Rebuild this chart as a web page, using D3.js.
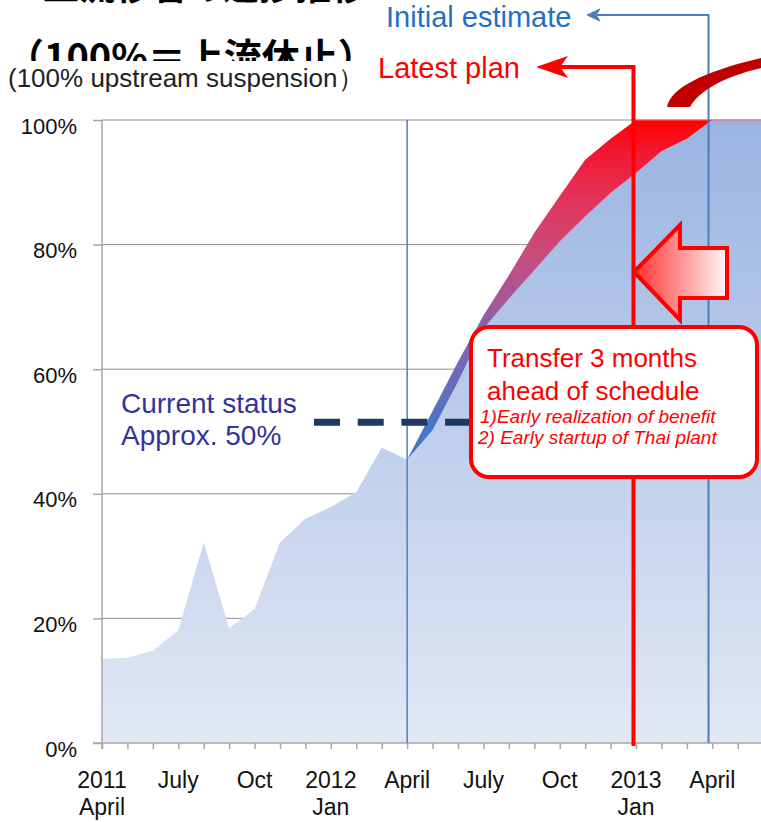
<!DOCTYPE html>
<html lang="en">
<head>
    <meta charset="UTF-8">
    <script src="https://d3js.org/d3.v7.min.js"></script>
    <style>
        body { margin: 0; background: white; }
        svg { display: block; font-family: "Liberation Sans", Arial, sans-serif; }
    </style>
</head>
<body>
    <div id="chart"></div>

    <script>
        const width = 761;
        const height = 822;

        // month index 0 = April 2011, one step per month
        const actualIndex = [0, 1, 2, 3, 4, 5, 6, 7, 8, 9, 10, 11, 12];
        const actualValues = [13.5, 13.7, 14.8, 18.1, 32.2, 18.4, 21.5, 32.2, 36, 37.9, 40.3, 47.4, 45.5];

        const planIndex = [12, 13, 14, 15, 16, 17, 18, 19, 20, 21, 22, 23, 24, 25, 26];
        const initialEstimate = [45.5, 50.2, 58, 66.5, 71.3, 75.9, 80.5, 84.5, 88.3, 91.5, 95, 97, 100, 100, 100];
        const latestPlan = [45.5, 53.3, 61.2, 68.6, 75.1, 81.9, 87.8, 93.6, 97, 100, 100, 100, 100, 100, 100];

        const yTicks = [0, 20, 40, 60, 80, 100];
        const xTickIndex = d3.range(0, 27);
        const xLabelIndex = [0, 3, 6, 9, 12, 15, 18, 21, 24];
        const xLabelTop = ["2011", "July", "Oct", "2012", "April", "July", "Oct", "2013", "April"];
        const xLabelBottom = ["April", "", "", "Jan", "", "", "", "Jan", ""];

        const currentStatus = 51.5;      // dashed marker level
        const aprilMarker = 12;          // blue line, April 2012
        const initialEnd = 23.85;        // initial estimate reaches 100%
        const latestEnd = 20.9;          // latest plan reaches 100%

        const x = d3.scaleLinear().domain([0, 26]).range([102, 102 + 26 * 25.43]);
        const y = d3.scaleLinear().domain([0, 100]).range([743, 120]);

        const svg = d3.select("#chart").append("svg")
            .attr("width", width)
            .attr("height", height);

        const defs = svg.append("defs");

        const blueGrad = defs.append("linearGradient")
            .attr("id", "blueGrad")
            .attr("gradientUnits", "userSpaceOnUse")
            .attr("x1", 0).attr("x2", 0)
            .attr("y1", y(100)).attr("y2", y(0));
        blueGrad.append("stop").attr("offset", 0).attr("stop-color", "#9ab4e2");
        blueGrad.append("stop").attr("offset", 1).attr("stop-color", "#e2e8f5");

        const bandGrad = defs.append("linearGradient")
            .attr("id", "bandGrad")
            .attr("gradientUnits", "userSpaceOnUse")
            .attr("x1", 0).attr("x2", 0)
            .attr("y1", y(100)).attr("y2", y(45.5));
        [[0, "#ff0000"], [0.1, "#f21834"], [0.25, "#e0365e"], [0.4, "#c84c7c"],
         [0.57, "#985ca0"], [0.72, "#7668b6"], [0.9, "#4a76c6"], [1, "#4472c4"]]
            .forEach(s => bandGrad.append("stop").attr("offset", s[0]).attr("stop-color", s[1]));

        const arrowGrad = defs.append("linearGradient")
            .attr("id", "arrowGrad")
            .attr("x1", 0).attr("x2", 1).attr("y1", 0).attr("y2", 0);
        arrowGrad.append("stop").attr("offset", 0).attr("stop-color", "#ff3030");
        arrowGrad.append("stop").attr("offset", 1).attr("stop-color", "#fff6f6");

        // titles (japanese title is cut off at the top and partly covered)
        svg.append("text")
            .attr("x", 43).attr("y", 0)
            .style("font-family", "'Noto Sans CJK JP', sans-serif")
            .style("font-weight", "bold")
            .style("font-size", "36px")
            .text("上流移管の進捗推移");

        svg.append("text")
            .attr("x", 6).attr("y", 71)
            .style("font-family", "'Noto Sans CJK JP', sans-serif")
            .style("font-weight", "bold")
            .style("font-size", "38px")
            .text("（100%＝上流休止）");

        svg.append("rect")
            .attr("x", 0).attr("y", 61)
            .attr("width", 372).attr("height", 40)
            .attr("fill", "white");

        svg.append("text")
            .attr("x", 8).attr("y", 87)
            .style("font-size", "26px")
            .attr("fill", "#222")
            .text("(100% upstream suspension）");

        // gridlines
        svg.append("g")
            .selectAll("line")
            .data(yTicks.filter(d => d > 0))
            .join("line")
            .attr("x1", x(0)).attr("x2", width)
            .attr("y1", d => y(d)).attr("y2", d => y(d))
            .attr("stroke", "#8c8c8c")
            .attr("stroke-width", 1);

        // areas
        const baseData = actualIndex.map((i, k) => ({ i, v: actualValues[k] }))
            .concat(planIndex.slice(1).map((i, k) => ({ i, v: initialEstimate[k + 1] })));

        const baseArea = d3.area()
            .x(d => x(d.i))
            .y0(y(0))
            .y1(d => y(d.v));

        svg.append("path")
            .datum(baseData)
            .attr("d", baseArea)
            .attr("fill", "url(#blueGrad)");

        const bandData = planIndex.map((i, k) => ({ i, lo: initialEstimate[k], hi: latestPlan[k] }));

        const bandArea = d3.area()
            .x(d => x(d.i))
            .y0(d => y(d.lo))
            .y1(d => y(d.hi));

        svg.append("path")
            .datum(bandData)
            .attr("d", bandArea)
            .attr("fill", "url(#bandGrad)");

        svg.append("path")
            .datum(bandData.filter(d => d.i >= 21))
            .attr("d", d3.line().x(d => x(d.i)).y(d => y(d.hi)))
            .attr("fill", "none")
            .attr("stroke", "#e86a6a")
            .attr("stroke-width", 1);

        // axes
        const yAxis = svg.append("g").attr("transform", `translate(${x(0)},0)`)
            .call(d3.axisLeft(y).tickValues(yTicks).tickSize(9).tickFormat(d => d + "%"));
        yAxis.select(".domain").attr("stroke", "#a6a6a6").attr("stroke-width", 1.5)
            .attr("d", `M0,${y(100)}V${y(0) + 6}`);
        yAxis.selectAll(".tick line").attr("stroke", "#a6a6a6").attr("stroke-width", 1.5);
        yAxis.selectAll(".tick text")
            .attr("x", -25)
            .attr("dy", 13)
            .style("font-size", "22px")
            .style("font-family", "'Liberation Sans', Arial, sans-serif")
            .attr("fill", "#111");

        const xAxis = svg.append("g").attr("transform", `translate(0,${y(0)})`)
            .call(d3.axisBottom(x).tickValues(xTickIndex).tickSize(6).tickFormat(""));
        xAxis.select(".domain").attr("stroke", "#a6a6a6").attr("stroke-width", 1.5)
            .attr("d", `M${x(0) - 9},0H${width}`);
        xAxis.selectAll(".tick line").attr("stroke", "#a6a6a6").attr("stroke-width", 1.5);

        const labels = svg.append("g")
            .style("font-size", "23px")
            .attr("fill", "#111")
            .attr("text-anchor", "middle");
        labels.selectAll(".top")
            .data(xLabelIndex)
            .join("text")
            .attr("class", "top")
            .attr("x", d => x(d))
            .attr("y", 788)
            .text((d, k) => xLabelTop[k]);
        labels.selectAll(".bottom")
            .data(xLabelIndex)
            .join("text")
            .attr("class", "bottom")
            .attr("x", d => x(d))
            .attr("y", 815)
            .text((d, k) => xLabelBottom[k]);

        // april 2012 marker
        svg.append("line")
            .attr("x1", x(aprilMarker)).attr("x2", x(aprilMarker))
            .attr("y1", y(100)).attr("y2", y(0))
            .attr("stroke", "#4f81bd")
            .attr("stroke-width", 1.5);

        // initial estimate callout line
        svg.append("path")
            .attr("d", `M${x(initialEnd)},${y(0)}V15H597`)
            .attr("fill", "none")
            .attr("stroke", "#4a7ebb")
            .attr("stroke-width", 2);
        svg.append("path")
            .attr("d", "M587,15L600,9L596,15L600,21Z")
            .attr("fill", "#4a7ebb")
            .attr("stroke", "#4a7ebb")
            .attr("stroke-width", 1);

        svg.append("text")
            .attr("x", 386).attr("y", 27)
            .style("font-size", "29px")
            .attr("fill", "#1f70c8")
            .text("Initial estimate");

        // latest plan callout line
        svg.append("path")
            .attr("d", `M${x(latestEnd)},${y(0) + 3}V67H552`)
            .attr("fill", "none")
            .attr("stroke", "#ff0000")
            .attr("stroke-width", 4);
        svg.append("path")
            .attr("d", "M536,67L568,56L560,67L568,78Z")
            .attr("fill", "#ff0000");

        svg.append("text")
            .attr("x", 378).attr("y", 78)
            .style("font-size", "29px")
            .attr("fill", "#ff0000")
            .text("Latest plan");

        // swoosh tail of a curved arrow at top right
        svg.append("path")
            .attr("d", "M667,107C671,88 702,72 761,58L761,68C724,77 700,90 690,107Z")
            .attr("fill", "#c00000");

        // block arrow pointing left
        svg.append("path")
            .attr("d", "M634,272L680,225L680,248L727,248L727,298L680,298L680,320Z")
            .attr("fill", "url(#arrowGrad)")
            .attr("stroke", "#ff0000")
            .attr("stroke-width", 4)
            .attr("stroke-linejoin", "miter");

        // current status dashed marker
        svg.append("line")
            .attr("x1", 314).attr("x2", 475)
            .attr("y1", y(currentStatus)).attr("y2", y(currentStatus))
            .attr("stroke", "#1f3864")
            .attr("stroke-width", 7)
            .attr("stroke-dasharray", "26,17.7");

        svg.append("text")
            .attr("x", 121).attr("y", 413)
            .style("font-size", "28px")
            .attr("fill", "#33339a")
            .text("Current status");
        svg.append("text")
            .attr("x", 121).attr("y", 445)
            .style("font-size", "28px")
            .attr("fill", "#33339a")
            .text("Approx. 50%");

        // callout box
        svg.append("rect")
            .attr("x", 471).attr("y", 327)
            .attr("width", 286).attr("height", 150)
            .attr("rx", 18)
            .attr("fill", "white")
            .attr("stroke", "#ff0000")
            .attr("stroke-width", 4);

        const box = svg.append("g").attr("fill", "#ff0000");
        box.append("text").attr("x", 487).attr("y", 367)
            .style("font-size", "26px").text("Transfer 3 months");
        box.append("text").attr("x", 487).attr("y", 400)
            .style("font-size", "26px").text("ahead of schedule");
        box.append("text").attr("x", 480).attr("y", 423)
            .style("font-size", "19px").style("font-style", "italic")
            .text("1)Early realization of  benefit");
        box.append("text").attr("x", 478).attr("y", 444)
            .style("font-size", "19px").style("font-style", "italic")
            .text("2) Early startup of Thai  plant");
    </script>
</body>
</html>
